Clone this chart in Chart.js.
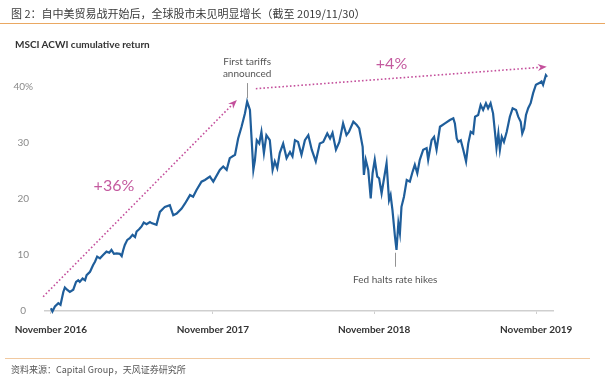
<!DOCTYPE html>
<html>
<head>
<meta charset="utf-8">
<script src="https://cdn.jsdelivr.net/npm/chart.js@4"></script>
<style>
  html, body { margin:0; padding:0; background:#fff; }
  #wrap { position:relative; width:605px; height:385px; overflow:hidden; }
  #c { position:absolute; left:0; top:0; }
  .title { position:absolute; left:11px; top:5px; font-family:"Noto Sans CJK SC"; font-size:11px; color:#3a3a3a; white-space:nowrap; }
  .topline { position:absolute; left:0; top:23px; width:605px; height:0; border-top:1px solid #eaa862; }
  .sub { position:absolute; left:15px; top:38px; font-family:Lato; font-weight:bold; font-size:10px; color:#333; white-space:nowrap; }
  .botline { position:absolute; left:5px; top:358px; width:585px; height:0; border-top:1px solid #f1c9a0; }
  .src { position:absolute; left:11px; top:363px; font-family:"Noto Sans CJK SC"; font-size:9px; color:#555; white-space:nowrap; }
</style>
</head>
<body>
<div id="wrap">
  <canvas id="c" width="605" height="385"></canvas>
  <div class="title">图 2：自中美贸易战开始后，全球股市未见明显增长（截至 2019/11/30）</div>
  <div class="topline"></div>
  <div class="sub">MSCI ACWI cumulative return</div>
  <div class="botline"></div>
  <div class="src">资料来源：Capital Group，天风证券研究所</div>
</div>
<script>
// Weeks since the start of the series (early November 2016)
const weeks = [0, 0.5, 1.3, 2.4, 3.1, 4.0, 4.5, 5.2, 6.1, 7.2,
  8.1, 8.8, 9.3, 10.2, 11.0, 11.5, 12.6, 13.6, 14.2, 14.9,
  15.8, 16.8, 17.9, 18.8, 19.5, 20.3, 21.2, 22.2, 22.8, 23.3,
  23.8, 24.6, 25.4, 26.3, 27.1, 27.6, 28.4, 29.2, 29.9, 30.8,
  31.9, 32.4, 34.0, 35.1, 36.7, 38.3, 39.4, 40.5, 42.1, 43.2,
  44.8, 45.8, 46.9, 48.5, 49.6, 51.2, 52.3, 54.4, 55.5, 56.6,
  57.6, 59.3, 60.3, 61.4, 62.5, 63.2, 64.1, 65.2, 65.7, 66.3,
  67.1, 67.8, 68.6, 69.4, 70.5, 71.4, 72.1, 72.9, 73.7, 74.8,
  75.9, 77.0, 77.8, 78.6, 79.6, 80.7, 81.8, 82.9, 84.0, 85.3,
  86.6, 87.7, 89.0, 89.9, 90.7, 91.8, 92.9, 94.1, 95.2, 96.0,
  97.4, 98.5, 99.3, 100.4, 100.8, 101.4, 102.2, 103.0, 103.6, 104.3,
  105.1, 105.7, 106.5, 107.2, 108.1, 108.9, 109.4, 110.0, 110.8, 111.3,
  111.9, 112.4, 112.9, 113.7, 114.6, 115.6, 116.5, 117.2, 118.0, 118.8,
  119.9, 121.0, 121.5, 122.6, 123.4, 124.2, 125.3, 126.9, 128.5, 129.6,
  130.1, 130.7, 131.2, 132.0, 132.8, 133.7, 134.4, 135.2, 136.0, 136.6,
  137.6, 138.4, 139.2, 140.1, 140.8, 141.6, 142.4, 143.0, 143.5, 144.1,
  144.6, 145.2, 145.9, 146.8, 147.8, 148.7, 149.8, 150.5, 151.3, 151.8,
  152.4, 153.0, 153.7, 154.5, 155.3, 156.2, 157.3, 158.0, 158.5, 159.4,
  159.8];

// MSCI ACWI cumulative return (%)
const returns = [0.5, -0.1, 0.8, 1.4, 1.1, 3.4, 4.2, 3.8, 3.4, 3.8,
  5.2, 5.5, 5.2, 5.8, 5.5, 6.4, 7.0, 8.2, 8.8, 9.7,
  9.4, 10.0, 10.6, 10.4, 10.9, 10.2, 10.3, 10.2, 9.8, 10.9,
  11.8, 12.7, 13.0, 13.6, 13.2, 14.2, 14.6, 15.1, 15.8, 15.5,
  15.9, 15.7, 15.4, 17.7, 18.6, 18.9, 17.1, 17.4, 18.3, 19.2,
  20.7, 20.4, 21.6, 23.1, 23.4, 24.0, 23.1, 25.2, 25.8, 25.2,
  27.3, 27.9, 30.8, 32.9, 35.3, 37.4, 35.9, 25.2, 26.9, 30.5,
  29.9, 32.0, 28.2, 31.4, 30.5, 25.2, 26.7, 25.5, 28.2, 29.9,
  27.3, 28.4, 27.6, 30.5, 30.2, 27.9, 30.5, 31.4, 28.8, 26.7,
  29.9, 30.2, 31.7, 30.8, 31.8, 28.8, 30.2, 33.5, 31.4, 32.0,
  33.8, 33.2, 32.6, 29.3, 24.3, 27.0, 25.2, 20.1, 24.6, 27.0,
  24.0, 23.7, 21.0, 23.4, 26.4, 19.8, 20.7, 18.0, 13.3, 10.9,
  15.7, 13.9, 18.6, 20.4, 23.4, 23.1, 24.9, 26.1, 24.6, 27.0,
  28.8, 29.1, 27.0, 30.5, 31.1, 28.8, 32.9, 33.5, 34.1, 34.4,
  33.5, 30.8, 30.2, 30.5, 28.8, 26.7, 29.9, 32.0, 31.7, 34.7,
  35.0, 36.8, 35.9, 37.1, 36.2, 37.1, 35.3, 32.0, 29.1, 31.7,
  28.8, 31.1, 30.2, 32.0, 34.7, 36.2, 35.9, 34.7, 33.8, 31.7,
  32.6, 35.0, 36.2, 37.1, 38.9, 40.4, 40.7, 41.0, 40.4, 42.1,
  41.8];

const tickWeeks = [0, 52.2, 104.1, 156.3];
const tickLabels = ["November 2016", "November 2017", "November 2018", "November 2019"];
const yTicks = [0, 10, 20, 30, 40];

// Annotations in data coordinates (week, return)
const trendArrows = [
  { from: [-2.5, 2.55], to: [59.9, 37.7], label: "+36%", at: [20.3, 22.3] },
  { from: [66.0, 39.7], to: [159.7, 43.6], label: "+4%", at: [109.7, 44.1] }
];
const events = [
  { week: 63.2, lineFrom: 38.0, lineTo: 40.7, lines: ["First tariffs", "announced"], textAt: [44.5, 42.3] },
  { week: 110.9, lineFrom: 7.9, lineTo: 10.4, lines: ["Fed halts rate hikes"], textAt: [5.5] }
];

const annotationPlugin = {
  id: 'annot',
  afterDatasetsDraw(chart) {
    const ctx = chart.ctx, xs = chart.scales.x, ys = chart.scales.y;
    ctx.save();
    const pink = '#c4509c';
    trendArrows.forEach(a => {
      const x1 = xs.getPixelForValue(a.from[0]), y1 = ys.getPixelForValue(a.from[1]);
      const x2 = xs.getPixelForValue(a.to[0]), y2 = ys.getPixelForValue(a.to[1]);
      const ang = Math.atan2(y2 - y1, x2 - x1);
      const headLen = 9;
      const ex = x2 - Math.cos(ang) * headLen * 0.8, ey = y2 - Math.sin(ang) * headLen * 0.8;
      ctx.strokeStyle = pink;
      ctx.lineWidth = 1.6;
      ctx.setLineDash([1.6, 2.2]);
      ctx.beginPath(); ctx.moveTo(x1, y1); ctx.lineTo(ex, ey); ctx.stroke();
      ctx.setLineDash([]);
      ctx.fillStyle = pink;
      ctx.beginPath();
      ctx.moveTo(x2, y2);
      ctx.lineTo(x2 - Math.cos(ang) * headLen + Math.sin(ang) * 3.5, y2 - Math.sin(ang) * headLen - Math.cos(ang) * 3.5);
      ctx.lineTo(x2 - Math.cos(ang) * headLen * 0.7, y2 - Math.sin(ang) * headLen * 0.7);
      ctx.lineTo(x2 - Math.cos(ang) * headLen - Math.sin(ang) * 3.5, y2 - Math.sin(ang) * headLen + Math.cos(ang) * 3.5);
      ctx.closePath(); ctx.fill();
      ctx.font = '16px Lato';
      ctx.fillStyle = '#c45a9f';
      ctx.textAlign = 'center'; ctx.textBaseline = 'middle';
      ctx.fillText(a.label, xs.getPixelForValue(a.at[0]), ys.getPixelForValue(a.at[1]));
    });
    events.forEach(e => {
      const x = xs.getPixelForValue(e.week);
      ctx.strokeStyle = '#777'; ctx.lineWidth = 0.8;
      ctx.beginPath();
      ctx.moveTo(Math.round(x) + 0.5, ys.getPixelForValue(e.lineFrom));
      ctx.lineTo(Math.round(x) + 0.5, ys.getPixelForValue(e.lineTo));
      ctx.stroke();
      ctx.fillStyle = '#555';
      ctx.font = '10px Lato';
      ctx.textAlign = 'center'; ctx.textBaseline = 'middle';
      e.lines.forEach((t, i) => ctx.fillText(t, x, ys.getPixelForValue(e.textAt[i])));
    });
    ctx.restore();
  }
};

new Chart(document.getElementById('c'), {
  type: 'line',
  data: {
    datasets: [{
      data: weeks.map((w, i) => ({ x: w, y: returns[i] })),
      borderColor: '#1f5e9b',
      borderWidth: 2.2,
      pointRadius: 0,
      tension: 0,
      fill: false,
      clip: false
    }]
  },
  options: {
    responsive: false,
    animation: false,
    layout: { padding: { left: 0, right: 52, top: 59, bottom: 47 } },
    plugins: { legend: { display: false }, tooltip: { enabled: false }, title: { display: false } },
    scales: {
      x: {
        type: 'linear', min: -1.9, max: 161.7,
        afterBuildTicks: s => { s.ticks = tickWeeks.map(v => ({ value: v })); },
        afterFit: s => { s.height = 27; },
        ticks: {
          callback: (v, i) => tickLabels[i],
          color: '#333', font: { family: 'Lato', size: 10, weight: 'bold' },
          padding: 10, maxRotation: 0, autoSkip: false
        },
        grid: { display: true, drawOnChartArea: false, drawTicks: true, tickLength: 3, color: '#cfcfcf' },
        border: { display: true, color: '#cfcfcf', width: 1.5 }
      },
      y: {
        min: 0, max: 45,
        afterBuildTicks: s => { s.ticks = yTicks.map(v => ({ value: v })); },
        afterFit: s => { s.width = 45; },
        ticks: {
          callback: v => v === 40 ? '40%' : String(v),
          color: '#8a8a8a', font: { family: 'Lato', size: 10 },
          crossAlign: 'center', padding: 12
        },
        grid: { display: false, drawTicks: false },
        border: { display: false }
      }
    }
  },
  plugins: [annotationPlugin]
});
</script>
</body>
</html>
